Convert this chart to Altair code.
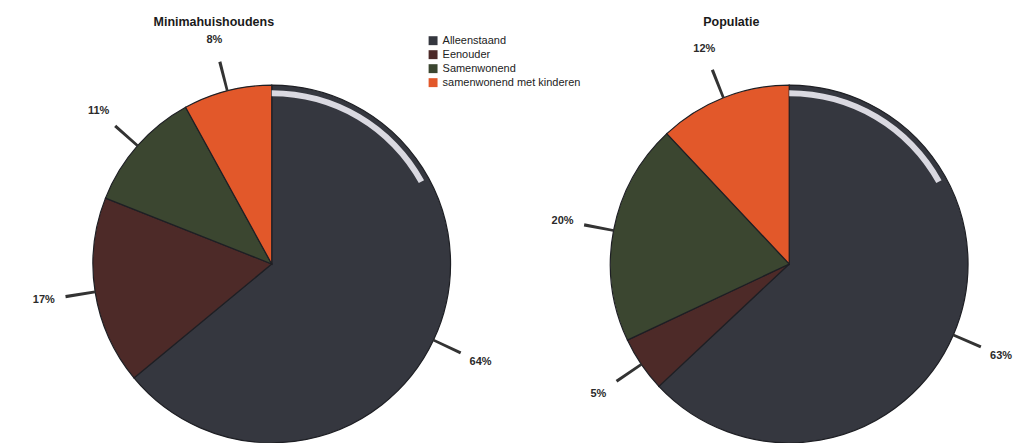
import altair as alt
import pandas as pd

panels = ["Minimahuishoudens", "Populatie"]
categories = ["Alleenstaand", "Eenouder", "Samenwonend", "samenwonend met kinderen"]
minima_values = [64, 17, 11, 8]
populatie_values = [63, 5, 20, 12]
colors = ["#35373f", "#4d2a28", "#3b4630", "#e2582a"]

rows = []
for p, vals in zip(panels, [minima_values, populatie_values]):
    for i, (c, v) in enumerate(zip(categories, vals)):
        rows.append({"panel": p, "cat": c, "order": i, "value": v})
df = pd.DataFrame(rows)
titles_df = pd.DataFrame({"panel": panels})

x_enc = alt.X("panel:N", scale=alt.Scale(domain=panels, range=[264, 782], padding=0), axis=None)
theta_scale = alt.Scale(domain=[0, 100], range=[0, 6.283185307])
Y_CENTER = 256
R = 179

base = alt.Chart(df).transform_window(
    end="sum(value)", groupby=["panel"], sort=[alt.SortField("order")], frame=[None, 0]
).transform_calculate(
    start="datum.end - datum.value",
    mid="datum.end - datum.value / 2",
    mid_a="datum.end - datum.value / 2 - 0.12",
    mid_b="datum.end - datum.value / 2 + 0.12",
    hl_end="datum.start + 17",
    pct="datum.value + '%'",
)

pies = base.mark_arc(outerRadius=R, stroke="#1e1f24", strokeWidth=1.2).encode(
    x=x_enc,
    y=alt.value(Y_CENTER),
    theta=alt.Theta("start:Q", scale=theta_scale, stack=False),
    theta2="end:Q",
    color=alt.Color(
        "cat:N",
        scale=alt.Scale(domain=categories, range=colors),
        legend=alt.Legend(
            title=None,
            orient="none",
            legendX=420,
            legendY=27,
            symbolType="square",
            symbolSize=80,
            symbolStrokeWidth=0,
            symbolOpacity=1,
            labelFontSize=11,
            labelFont="Liberation Sans",
            labelColor="#222",
            rowPadding=2,
        ),
    ),
)

highlight = base.transform_filter(alt.datum.order == 0).mark_arc(
    innerRadius=R - 11, outerRadius=R - 5, color="#ecebf3", opacity=0.9
).encode(
    x=x_enc,
    y=alt.value(Y_CENTER),
    theta=alt.Theta("start:Q", scale=theta_scale, stack=False),
    theta2="hl_end:Q",
)

leaders = base.mark_arc(innerRadius=R, outerRadius=R + 30, color="#333333").encode(
    x=x_enc,
    y=alt.value(Y_CENTER),
    theta=alt.Theta("mid_a:Q", scale=theta_scale, stack=False),
    theta2="mid_b:Q",
)

labels = base.mark_text(
    radius=R + 52, fontSize=11, fontWeight="bold", font="Liberation Sans", color="#2a2a2a"
).encode(
    x=x_enc,
    y=alt.value(Y_CENTER),
    theta=alt.Theta("mid:Q", scale=theta_scale, stack=False),
    text="pct:N",
)

titles = alt.Chart(titles_df).mark_text(
    fontSize=12.5, fontWeight="bold", font="Liberation Sans", color="#1a1a1a", dx=-58
).encode(
    x=x_enc,
    y=alt.value(14),
    text="panel:N",
)

chart = alt.layer(pies, highlight, leaders, labels, titles).properties(
    width=1005, height=427, padding=0
).configure_view(strokeWidth=0)

chart.save("out.html", embed_options={"renderer": "svg", "actions": False})
